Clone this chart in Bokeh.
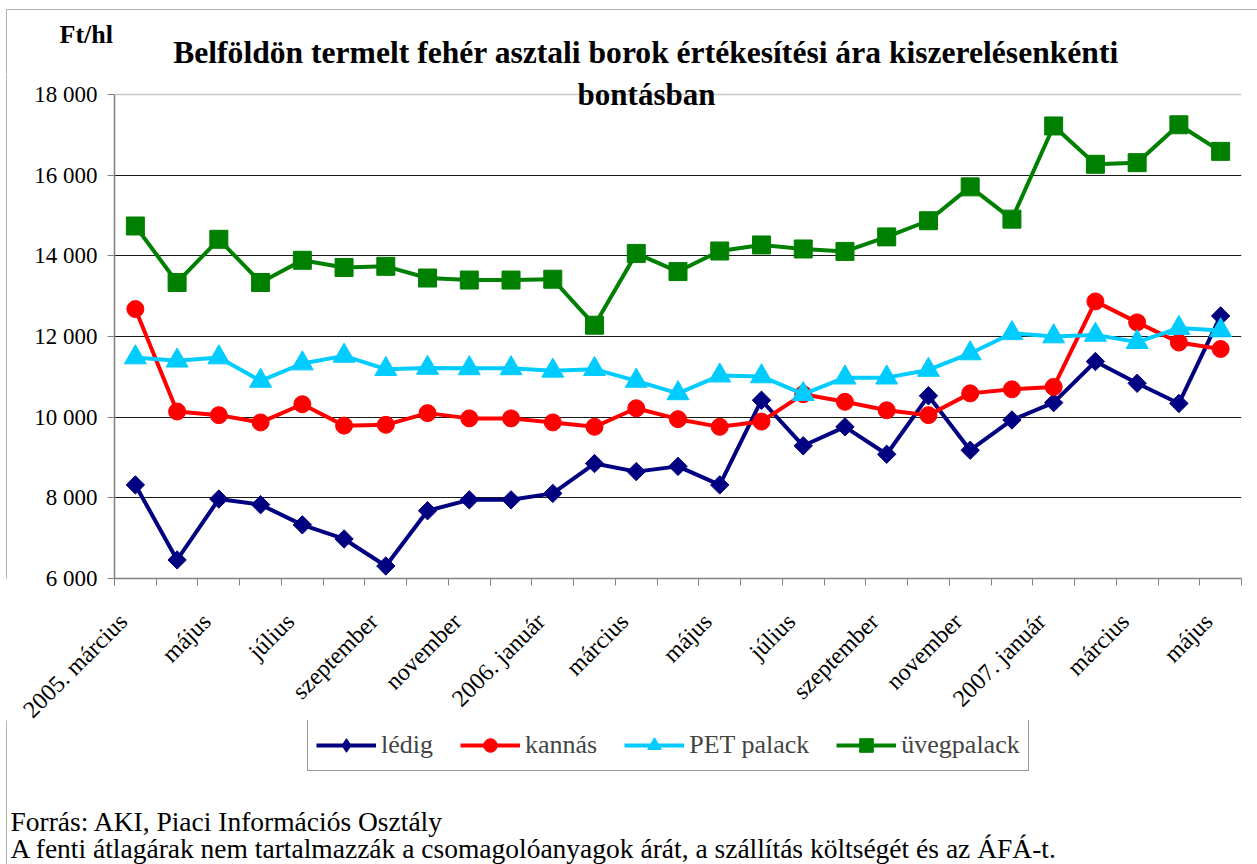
import math
from bokeh.plotting import figure
from bokeh.layouts import column, row
from bokeh.models import (Range1d, FixedTicker, Label, Legend, LegendItem, Span,
                          BoxAnnotation)
from bokeh.embed import file_html
from bokeh.resources import INLINE

# ---- data ----
months = ["2005. március", "április", "május", "június", "július", "augusztus",
          "szeptember", "október", "november", "december", "2006. január", "február",
          "március", "április", "május", "június", "július", "augusztus", "szeptember",
          "október", "november", "december", "2007. január", "február", "március",
          "április", "május"]
ledig = [8320, 6460, 7970, 7830, 7330, 6980, 6310, 7680, 7950, 7950, 8110, 8850, 8650,
         8780, 8320, 10420, 9290, 9760, 9080, 10530, 9180, 9930, 10360, 11380, 10840,
         10340, 12510]
kannas = [12680, 10140, 10050, 9870, 10320, 9790, 9810, 10100, 9970, 9970, 9870, 9760,
          10220, 9950, 9760, 9890, 10570, 10380, 10170, 10050, 10590, 10690, 10750,
          12870, 12350, 11850, 11690]
pet = [11480, 11400, 11480, 10900, 11330, 11520, 11190, 11220, 11210, 11210, 11150,
       11190, 10900, 10590, 11030, 11010, 10570, 10980, 10980, 11170, 11580, 12080,
       12000, 12040, 11860, 12210, 12150]
uveg = [14740, 13340, 14410, 13340, 13890, 13710, 13740, 13450, 13400, 13400, 13420,
        12280, 14060, 13610, 14120, 14270, 14170, 14110, 14470, 14870, 15710, 14910,
        17220, 16270, 16310, 17250, 16590]
series_names = ["lédig", "kannás", "PET palack", "üvegpalack"]
y_ticks = [6000, 8000, 10000, 12000, 14000, 16000, 18000]
y_tick_labels = ["6 000", "8 000", "10 000", "12 000", "14 000", "16 000", "18 000"]
title1 = "Belföldön termelt fehér asztali borok értékesítési ára kiszerelésenkénti"
title2 = "bontásban"
unit = "Ft/hl"
foot1 = "Forrás: AKI, Piaci Információs Osztály"
foot2 = "A fenti átlagárak nem tartalmazzák a csomagolóanyagok árát, a szállítás költségét és az ÁFÁ-t."

FONT = "Liberation Serif"
W, H = 1257, 864
x = list(range(len(months)))

colors = ["#000080", "#FF0000", "#00CCFF", "#008000"]
markers = [dict(marker="square", angle=math.pi / 4, size=13),
           dict(marker="circle", size=17),
           dict(marker="triangle", size=22),
           dict(marker="square", size=18)]
values = [ledig, kannas, pet, uveg]

# page layout (px)
HEAD_H = 74          # header height
MAIN_BOTTOM = 738    # bottom of the main chart figure
FOOT_TOP = 720       # footer figure starts here (overlaps empty bottom of the main figure)
FRAME_L, FRAME_R, FRAME_B = 114, 1241, 578
Y_PX_18000 = 94
STRIP_W = 7
LABEL_SHIFT = 0.29   # category labels sit slightly left of the category centre
MID = 0.3375         # baseline -> em-box middle, in em


def blank(width, height, xr, yr):
    f = figure(width=width, height=height, output_backend="svg", toolbar_location=None,
               x_range=xr, y_range=yr, x_axis_type=None, y_axis_type=None,
               min_border=0, title=None)
    f.outline_line_color = None
    f.background_fill_color = "white"
    f.border_fill_color = "white"
    f.xgrid.visible = False
    f.ygrid.visible = False
    return f


def add_label(f, text, xs, baseline, size, bold=False, align="left"):
    # y given as the text baseline in page px (ranges are flipped to page coordinates)
    f.add_layout(Label(x=xs, y=baseline - MID * size, text=text, text_font=FONT,
                       text_font_size=f"{size}px",
                       text_font_style="bold" if bold else "normal",
                       text_align=align, text_baseline="middle", text_color="black"))


# ---------- header ----------
head = blank(W, HEAD_H, Range1d(0, W), Range1d(HEAD_H, 0))
head.add_layout(BoxAnnotation(left=6, right=5000, top=9, bottom=5000, fill_alpha=0,
                              line_color="black", line_width=1))
add_label(head, unit, 59, 43, 26, bold=True)
add_label(head, title1, 645.5, 63, 31.6, bold=True, align="center")

# ---------- left border strip ----------
main_h = MAIN_BOTTOM - HEAD_H
strip = blank(STRIP_W, main_h, Range1d(0, STRIP_W), Range1d(0, 1))
strip.add_layout(BoxAnnotation(left=6, right=100, bottom=-10, top=10, fill_alpha=0,
                               line_color="black", line_width=1))

# ---------- main chart ----------
y0, y1 = y_ticks[0], y_ticks[-1]
y_end = y0 + (y1 - y0) * (FRAME_B - HEAD_H) / (FRAME_B - Y_PX_18000)
p = figure(width=W - STRIP_W, height=main_h, output_backend="svg", toolbar_location=None,
           x_range=Range1d(-0.5, len(months) - 0.5), y_range=Range1d(y0, y_end),
           min_border_left=FRAME_L - STRIP_W, min_border_right=W - FRAME_R,
           min_border_top=0, min_border_bottom=MAIN_BOTTOM - FRAME_B, title=None)
p.outline_line_color = None
p.background_fill_color = "white"
p.border_fill_color = "white"

p.xgrid.grid_line_color = None
p.ygrid.ticker = FixedTicker(ticks=y_ticks[1:-1])
p.ygrid.grid_line_color = "#1a1a1a"
p.ygrid.grid_line_width = 1
p.add_layout(Span(location=y1, dimension="width", line_color="#c8c8c8", line_width=1.5))

p.yaxis.ticker = FixedTicker(ticks=y_ticks)
p.yaxis.bounds = (y0, y1)
p.yaxis.major_label_overrides = {t: l for t, l in zip(y_ticks, y_tick_labels)}
p.yaxis.major_label_text_font = FONT
p.yaxis.major_label_text_font_size = "23px"
p.yaxis.major_label_text_color = "black"
p.yaxis.major_tick_out = 7
p.yaxis.major_tick_in = 0
p.yaxis.minor_tick_line_color = None
p.yaxis.axis_line_color = "#808080"
p.yaxis.axis_line_width = 1.5
p.yaxis.major_tick_line_color = "#808080"
p.yaxis.major_label_standoff = 10

label_pos = [i - LABEL_SHIFT for i in x[::2]]
p.xaxis.ticker = FixedTicker(ticks=label_pos,
                             minor_ticks=[i - 0.5 for i in range(len(months) + 1)])
p.xaxis.major_label_overrides = {t: months[i] for t, i in zip(label_pos, x[::2])}
p.xaxis.major_label_orientation = math.pi / 4
p.xaxis.major_label_text_font = FONT
p.xaxis.major_label_text_font_size = "24px"
p.xaxis.major_label_text_color = "black"
p.xaxis.major_tick_line_color = None
p.xaxis.major_tick_out = 7
p.xaxis.major_tick_in = 0
p.xaxis.minor_tick_out = 7
p.xaxis.minor_tick_in = 0
p.xaxis.minor_tick_line_color = "#808080"
p.xaxis.axis_line_color = "#808080"
p.xaxis.axis_line_width = 1.5
p.xaxis.major_label_standoff = 32

for vals, col, mk in zip(values, colors, markers):
    p.line(x, vals, line_color=col, line_width=4, line_join="round")
    p.scatter(x, vals, color=col, **mk)

p.add_layout(Label(x=646 - FRAME_L, y=FRAME_B - (104 - MID * 31), x_units="screen",
                   y_units="screen", text=title2, text_font=FONT, text_font_size="31px",
                   text_font_style="bold", text_align="center",
                   text_baseline="middle", text_color="black"))

# ---------- footer: legend + notes ----------
FOOT_H = H - FOOT_TOP
foot = blank(W, FOOT_H, Range1d(0, W), Range1d(H, FOOT_TOP))
foot.margin = (FOOT_TOP - MAIN_BOTTOM, 0, 0, 0)
foot.add_layout(BoxAnnotation(left=6, right=5000, top=0, bottom=2000, fill_alpha=0,
                              line_color="black", line_width=1))
items = []
for name, vals, col, mk in zip(series_names, values, colors, markers):
    # the same series, drawn here only to feed the legend (values lie outside this view)
    rl = foot.line(x, vals, line_color=col, line_width=4)
    swatch = dict(mk)
    if swatch.pop("angle", None):
        swatch["marker"] = "diamond"
    rs = foot.scatter(x, vals, color=col, **swatch)
    items.append(LegendItem(label=name, renderers=[rl, rs]))
legend = Legend(items=items, location=(307, H - 771), orientation="horizontal",
                label_text_font=FONT, label_text_font_size="26px",
                glyph_width=60, glyph_height=34, label_standoff=5, spacing=27,
                padding=8, margin=0, border_line_color="#333333", border_line_width=1,
                background_fill_color="white", background_fill_alpha=1.0)
foot.add_layout(legend)
add_label(foot, foot1, 10, 830, 27.5)
add_label(foot, foot2, 10, 857, 27.5)

layout = column(head, row(strip, p), foot)
open("out.html", "w").write(file_html(layout, INLINE))
